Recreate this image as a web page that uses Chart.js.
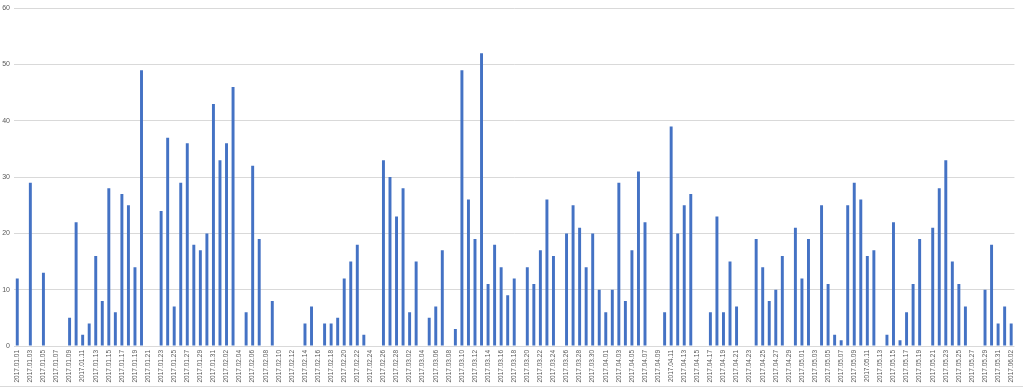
<!DOCTYPE html>
<html>
<head>
<meta charset="utf-8">
<script src="https://cdn.jsdelivr.net/npm/chart.js@4"></script>
<style>
  html, body { margin: 0; padding: 0; background: #fff; }
  #wrap { width: 1023px; height: 386px; border-bottom: 1px solid #d9d9d9; }
</style>
</head>
<body>
<div id="wrap"><canvas id="chart" width="1023" height="386"></canvas></div>
<script>
// daily counts, 2017.01.01 .. 2017.06.02 (0 = no bar that day)
const janValues = [12,0,29,0,13,0,0,0,5,22,2,4,16,8,28,6,27,25,14,49,0,0,24,37,7,29,36,18,17,20,43];
const febValues = [33,36,46,0,6,32,19,0,8,0,0,0,0,4,7,0,4,4,5,12,15,18,2,0,0,33,30,23];
const marValues = [28,6,15,0,5,7,17,0,3,49,26,19,52,11,18,14,9,12,0,14,11,17,26,16,0,20,25,21,14,20,10];
const aprValues = [6,10,29,8,17,31,22,0,0,6,39,20,25,27,0,0,6,23,6,15,7,0,0,19,14,8,10,16,0,21];
const mayValues = [12,19,0,25,11,2,1,25,29,26,16,17,0,2,22,1,6,11,19,0,21,28,33,15,11,7,0,0,10,18,4];
const junValues = [7,4];

const values = [].concat(janValues, febValues, marValues, aprValues, mayValues, junValues);

const yTicks = [0, 10, 20, 30, 40, 50, 60];

// category labels 2017.01.01 .. 2017.06.02
const startDate = new Date(2017, 0, 1);
const labels = [];
for (let i = 0; i < values.length; i++) {
  const d = new Date(startDate); d.setDate(startDate.getDate() + i);
  labels.push(`${d.getFullYear()}.${String(d.getMonth()+1).padStart(2,'0')}.${String(d.getDate()).padStart(2,'0')}`);
}

const ctx = document.getElementById('chart').getContext('2d');
new Chart(ctx, {
  type: 'bar',
  data: {
    labels: labels,
    datasets: [{
      data: values,
      backgroundColor: '#4472C4',
      borderWidth: 0,
      barPercentage: 0.9,
      categoryPercentage: 0.5
    }]
  },
  options: {
    responsive: false,
    animation: false,
    layout: { padding: { top: 5, right: 5, left: 0, bottom: 0 } },
    plugins: { legend: { display: false }, tooltip: { enabled: false } },
    scales: {
      x: {
        grid: { display: false, drawTicks: false },
        border: { display: false },
        ticks: {
          autoSkip: false,
          minRotation: 90,
          maxRotation: 90,
          padding: 4,
          color: '#595959',
          font: { family: 'Liberation Sans', size: 6.5 },
          // only every other day is labelled
          callback: function(v, i) { return i % 2 === 0 ? labels[i] : ''; }
        },
        afterFit: s => { s.height = 40; }
      },
      y: {
        min: 0,
        max: 60,
        afterBuildTicks: s => { s.ticks = yTicks.map(v => ({ value: v })); },
        grid: { color: '#d9d9d9', lineWidth: 1, drawTicks: false },
        border: { display: false },
        ticks: {
          padding: 4,
          color: '#595959',
          font: { family: 'Liberation Sans', size: 7 }
        },
        afterFit: s => { s.width = 14; }
      }
    }
  }
});
</script>
</body>
</html>
